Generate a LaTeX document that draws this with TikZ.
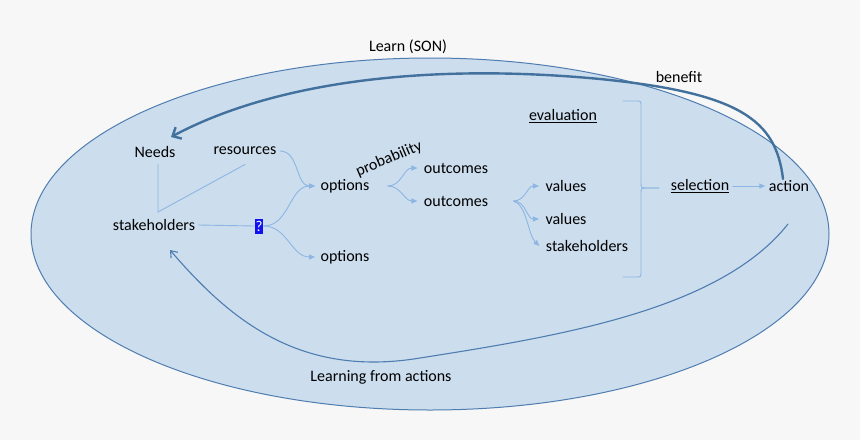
\documentclass[tikz,border=0pt]{standalone}
\usepackage{fontspec}
\setmainfont{Carlito}
\usepackage{tikz}
\usetikzlibrary{arrows.meta, positioning}

\definecolor{pagebg}{HTML}{F7F7F7}
\definecolor{blobfill}{HTML}{CCDDEE}
\definecolor{blobline}{HTML}{4F7DB0}
\definecolor{linklight}{HTML}{8DB6E2}
\definecolor{linkdark}{HTML}{41719C}
\definecolor{qblue}{HTML}{1010F0}

\tikzset{
  label text/.style={font=\fontsize{16}{19}\selectfont, text=black},
  thin link/.style={linklight, line width=0.9pt},
  flow/.style={thin link, -{Triangle[length=6pt, width=5pt]}},
}

\begin{document}
\begin{tikzpicture}[x=1pt, y=-1pt, line cap=round]

    % page and frame
    \fill[pagebg] (0,0) rectangle (860,440);
    \useasboundingbox (0,0) rectangle (860,440);

    % ==========================================
    % The SON blob
    % ==========================================
    \draw[blobline, fill=blobfill, line width=1pt] (430,234) ellipse [x radius=399, y radius=176];
    \node[label text] (learn) at (408,47) {Learn (SON)};

    % ==========================================
    % Left part: needs, resources, stakeholders
    % ==========================================
    \node[label text] (needs) at (155,152) {Needs};
    \node[label text] (resources) at (245,151) {resources};
    \node[label text] (stake) at (154,225) {stakeholders};
    \node[fill=qblue, text=white, font=\fontsize{15}{17}\selectfont, inner sep=1pt, minimum height=15pt] (query) at (259,226) {?};

    % the V between Needs, stakeholders, resources
    \coordinate (apex) at (158,212);
    \draw[thin link] ([xshift=3pt, yshift=-3pt]needs.south) -- (apex) -- ([yshift=-6pt]resources.south);
    \draw[thin link] (stake.east) -- (query.west);

    % ==========================================
    % Options and outcomes
    % ==========================================
    \node[label text] (optA) at (345,186) {options};
    \node[label text] (optB) at (345,257) {options};
    \node[label text, rotate=23, inner sep=0pt] (prob) at (389,159) {probability};
    \node[label text] (outA) at (456,168) {outcomes};
    \node[label text] (outB) at (456,201) {outcomes};

    \draw[flow] (resources.east) to[out=0, in=180] ([xshift=-2pt]optA.west);
    \draw[flow] (query.east) to[out=0, in=180] ([xshift=-2pt]optA.west);
    \draw[flow] (query.east) to[out=0, in=180] ([xshift=-2pt]optB.west);

    \draw[flow] ([xshift=15pt]optA.east) to[out=0, in=180] ([xshift=-3pt]outA.west);
    \draw[flow] ([xshift=15pt]optA.east) to[out=0, in=180] ([xshift=-3pt]outB.west);

    % ==========================================
    % Values and evaluation
    % ==========================================
    \node[label text] (valA) at (566,186) {values};
    \node[label text] (valB) at (566,219) {values};
    \node[label text] (stakeR) at (587,246) {stakeholders};
    \node[label text] (evaluation) at (563,116) {\underline{evaluation}};

    \draw[flow] ([xshift=22pt]outB.east) to[out=0, in=180] ([xshift=-3pt]valA.west);
    \draw[flow] ([xshift=22pt]outB.east) to[out=0, in=180] ([xshift=-3pt]valB.west);
    \draw[flow] ([xshift=22pt]outB.east) .. controls (527,205) and (528,235) .. ([xshift=-3pt]stakeR.west);

    % brace collecting the evaluation
    \coordinate (braceTip) at (659,188);
    \draw[thin link] (623,101) -- (636,101) .. controls (641,101) .. (641,106)
        -- (641,182) .. controls (641,188) .. (647,188) -- (braceTip);
    \draw[thin link] (braceTip) -- (647,188) .. controls (641,188) .. (641,194)
        -- (641,271) .. controls (641,277) .. (636,277) -- (623,277);

    % ==========================================
    % Selection and action
    % ==========================================
    \node[label text] (selection) at (700,186) {\underline{selection}};
    \node[label text] (action) at (789,186) {action};
    \node[label text] (benefit) at (679,77) {benefit};

    \draw[flow] (selection.east) -- (action.west);

    % benefit feeds back to the needs
    \coordinate (needsIn) at (171,137);
    \draw[linkdark, line width=2.4pt, -{Straight Barb[length=7pt, width=13pt]}]
        ([xshift=-6pt, yshift=-2pt]action.north) .. controls (776,120) and (740,93) .. (600,79)
        .. controls (420,62) and (270,84) .. (needsIn);

    % learning from actions
    \node[label text] (learning) at (381,377) {Learning from actions};
    \coordinate (learnStart) at (788,224);
    \coordinate (learnEnd) at (170,250);
    \draw[blobline, line width=1.1pt, -{Straight Barb[length=6pt, width=9pt]}]
        (learnStart) .. controls (720,310) and (560,336) .. (420,358)
        .. controls (300,378) and (230,320) .. (learnEnd);

\end{tikzpicture}
\end{document}
